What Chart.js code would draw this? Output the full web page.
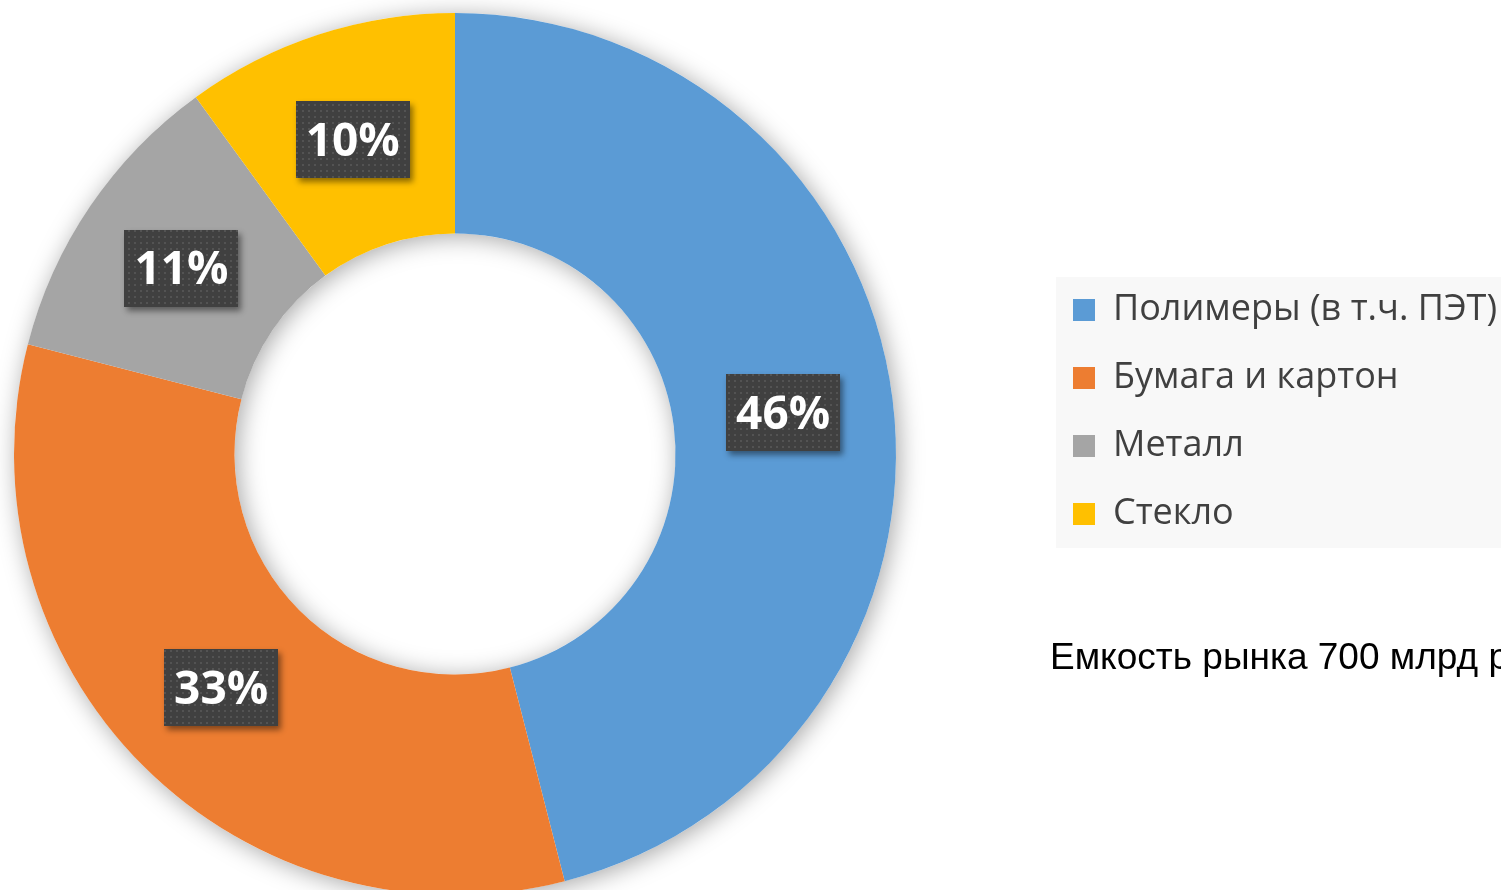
<!DOCTYPE html>
<html lang="ru">
<head>
<meta charset="utf-8">
<title>Структура рынка упаковки</title>
<script src="https://cdn.jsdelivr.net/npm/chart.js@4.4.1/dist/chart.umd.min.js"></script>
<style>
    html, body { margin: 0; padding: 0; background: #fff; overflow: hidden; }
    #wrap { position: relative; width: 1501px; height: 900px; }
    #note {
        position: absolute; left: 1050px; top: 638px;
        font: 37px "Liberation Sans", Arial, sans-serif; line-height: 1;
        color: #000; white-space: nowrap;
    }
</style>
</head>
<body>
<div id="wrap">
    <canvas id="grafik"></canvas>
    <div id="note">Емкость рынка 700 млрд руб.</div>
</div>
<script>
const kategorii = ["Полимеры (в т.ч. ПЭТ)", "Бумага и картон", "Металл", "Стекло"];
const doli = [46, 33, 11, 10];
const cveta = ["#5B9BD5", "#ED7D31", "#A5A5A5", "#FFC000"];

// точечный узор для тёмных плашек с процентами
function sozdatUzor(ctx) {
    const c = document.createElement("canvas");
    c.width = 6; c.height = 6;
    const g = c.getContext("2d");
    g.fillStyle = "#404040";
    g.fillRect(0, 0, 6, 6);
    g.fillStyle = "#535353";
    g.fillRect(2, 2, 2, 2);
    return ctx.createPattern(c, "repeat");
}

const tenKolca = {
    id: "tenKolca",
    beforeDatasetsDraw(chart) {
        const arc = chart.getDatasetMeta(0).data[0];
        if (!arc) return;
        const { x, y, outerRadius, innerRadius } = arc.getProps(["x", "y", "outerRadius", "innerRadius"], true);
        const ctx = chart.ctx;
        ctx.save();
        ctx.shadowColor = "rgba(0,0,0,0.35)";
        ctx.shadowBlur = 24;
        ctx.shadowOffsetX = 3;
        ctx.shadowOffsetY = 3;
        ctx.fillStyle = "#fff";
        ctx.beginPath();
        ctx.arc(x, y, outerRadius, 0, Math.PI * 2);
        ctx.arc(x, y, innerRadius, 0, Math.PI * 2, true);
        ctx.fill();
        ctx.restore();
    }
};

const metki = {
    id: "metki",
    afterDatasetsDraw(chart) {
        const ctx = chart.ctx;
        const uzor = sozdatUzor(ctx);
        const total = doli.reduce((a, b) => a + b, 0);
        chart.getDatasetMeta(0).data.forEach((arc, i) => {
            const { x, y } = arc.tooltipPosition(true);
            const w = 114, h = 77;
            const bx = Math.round(x - w / 2), by = Math.round(y - h / 2);
            ctx.save();
            ctx.shadowColor = "rgba(0,0,0,0.45)";
            ctx.shadowBlur = 6;
            ctx.shadowOffsetX = 3;
            ctx.shadowOffsetY = 4;
            ctx.fillStyle = "#404040";
            ctx.fillRect(bx, by, w, h);
            ctx.restore();
            ctx.save();
            ctx.fillStyle = uzor;
            ctx.fillRect(bx, by, w, h);
            ctx.fillStyle = "#fff";
            ctx.font = 'bold 46px "Open Sans", sans-serif';
            ctx.textAlign = "center";
            ctx.textBaseline = "middle";
            ctx.fillText(Math.round(doli[i] / total * 100) + "%", x, y + 3);
            ctx.restore();
        });
    }
};

// легенда стоит не там, где её ставит раскладка по умолчанию
const legendaPoz = {
    id: "legendaPoz",
    afterLayout(chart) {
        const lg = chart.legend;
        lg.left = 1041; lg.right = 1501;
        lg.top = 260; lg.bottom = 890;
    },
    beforeDraw(chart) {
        const lg = chart.legend;
        const ctx = chart.ctx;
        ctx.save();
        ctx.fillStyle = "#F8F8F8";
        ctx.fillRect(lg.left + 15, lg.top + 17, chart.width, 271);
        ctx.restore();
    }
};

new Chart(document.getElementById("grafik"), {
    type: "doughnut",
    data: {
        labels: kategorii,
        datasets: [{
            data: doli,
            backgroundColor: cveta,
            borderWidth: 0,
            hoverOffset: 0
        }]
    },
    options: {
        responsive: true,
        maintainAspectRatio: false,
        animation: false,
        cutout: "50%",
        layout: { padding: { left: 0, right: 191, top: 13, bottom: 5 } },
        events: [],
        plugins: {
            tooltip: { enabled: false },
            legend: {
                position: "right",
                align: "start",
                maxWidth: 400,
                labels: {
                    boxWidth: 22,
                    boxHeight: 22,
                    padding: 32,
                    color: "#404040",
                    font: { family: '"Open Sans", sans-serif', size: 36 }
                }
            }
        }
    },
    plugins: [tenKolca, metki, legendaPoz]
});
</script>
</body>
</html>
